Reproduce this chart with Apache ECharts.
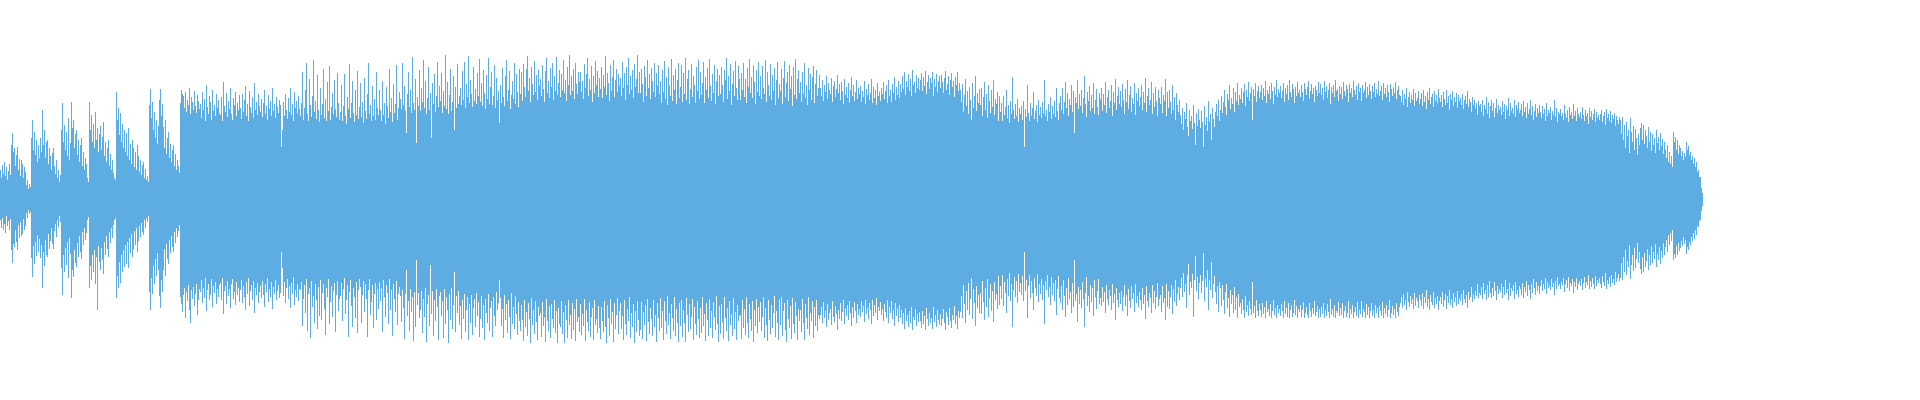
<!DOCTYPE html>
<html><head><meta charset="utf-8">
<script src="https://cdn.jsdelivr.net/npm/echarts@6/dist/echarts.min.js"></script>
<style>html,body{margin:0;padding:0;background:#fff}#chart{width:1920px;height:400px}</style>
</head><body><div id="chart"></div>
<script>
// Upper envelope of each sample (pixels of amplitude above the centre line)
const upper = [
30,22,35,26,38,24,33,20,29,36,25,55,67,48,
52,34,45,53,30,41,24,40,36,22,33,28,15,20,11,16,13,62,80,50,68,
45,60,38,55,42,62,48,90,
55,70,42,58,60,36,52,44,30,47,52,34,26,40,22,30,18,25,
70,97,58,75,50,68,44,82,40,57,98,72,
80,52,66,70,45,60,38,55,62,34,48,30,42,36,22,18,98,70,
85,58,76,52,88,60,72,48,66,
74,50,63,78,44,58,38,52,60,34,46,30,40,27,22,20,108,80,
92,65,87,58,76,52,70,48,
67,44,72,40,56,36,60,52,33,48,30,55,44,28,40,25,35,38,22,31,20,24,18,
95,111,82,98,70,88,62,80,56,74,100,111,84,96,
73,52,80,46,62,68,42,56,38,50,55,34,46,30,40,34,27,
97,110,106,104,92,108,88,100,95,112,86,103,98,90,109,94,87,105,99,91,
96,82,108,90,101,79,115,93,86,104,98,80,110,89,95,84,106,92,100,87,
85,103,79,118,94,88,107,83,99,91,112,86,80,102,95,108,84,97,90,105,
92,81,106,88,100,114,84,96,79,109,93,87,103,82,117,90,98,85,106,94,
88,101,83,97,110,86,94,80,105,91,99,84,112,89,96,82,103,93,87,100,
95,53,70,98,84,106,90,81,102,88,112,85,96,79,108,92,99,86,104,91,
84,97,128,80,92,110,137,86,79,121,95,83,104,140,88,99,81,125,90,78,
112,85,96,131,82,101,79,118,89,134,80,93,107,86,120,91,83,127,97,80,
88,115,79,94,126,84,76,103,91,136,82,97,119,87,78,110,85,129,81,93,
117,83,98,77,122,89,81,106,137,86,95,79,114,84,101,80,128,92,85,110,
90,79,119,85,97,76,113,94,82,131,88,102,78,116,87,96,135,80,92,108,
101,91,137,95,114,89,67,106,128,93,110,87,143,97,90,121,57,103,94,130,
89,112,98,140,92,119,86,102,133,90,107,62,117,96,126,88,104,138,93,114,
99,127,87,109,94,145,91,118,86,105,131,89,98,124,70,113,92,136,96,104,
112,95,129,100,138,92,116,103,144,97,120,106,93,133,99,111,96,127,104,141,
98,117,94,130,107,91,125,101,142,96,113,128,95,104,135,92,122,100,109,77,
115,97,132,103,94,124,140,99,110,129,91,105,119,101,137,96,126,108,93,131,
106,128,99,136,113,103,131,144,109,122,98,133,116,105,139,108,125,100,130,114,
121,104,135,111,98,129,142,107,119,102,132,113,137,100,124,109,143,105,117,130,
103,126,110,140,107,120,99,133,115,145,105,124,109,131,101,137,116,106,128,118,
128,108,119,101,136,112,126,142,104,121,110,134,98,124,107,139,115,129,103,122,
111,133,102,125,113,144,105,127,117,99,135,109,123,140,103,120,131,108,126,114,
122,104,138,112,127,100,133,115,142,106,124,110,130,102,136,113,121,145,107,128,
107,131,116,98,134,123,104,140,112,126,101,132,119,108,137,103,127,114,135,106,
119,97,130,108,139,101,123,95,133,114,104,141,99,125,110,131,96,120,137,102,
113,135,98,127,106,142,100,121,130,96,111,136,103,124,115,97,133,109,140,101,
128,105,117,138,97,123,110,132,102,141,114,99,126,107,135,96,119,131,104,125,
106,133,115,98,130,120,142,101,124,109,136,95,116,129,104,139,112,100,134,121,
100,127,110,137,103,121,97,132,113,141,107,123,102,135,118,96,130,108,138,104,
124,101,134,112,106,140,98,128,115,104,136,100,125,109,132,95,120,138,102,116,
109,131,96,122,139,103,117,128,99,135,111,124,94,133,105,141,101,121,130,107,
118,98,128,106,137,102,115,95,132,110,126,100,123,134,97,116,130,104,112,125,
112,104,120,99,115,108,124,101,117,110,106,122,98,114,119,103,111,125,107,116,
100,118,109,96,121,105,113,102,117,97,110,123,104,115,99,108,120,101,112,106,
114,98,109,103,119,96,111,105,116,100,107,121,97,113,102,110,95,117,104,108,
99,112,106,118,101,109,115,97,120,104,110,98,116,107,123,100,113,105,119,102,
116,108,124,111,128,105,119,113,126,109,121,104,130,115,118,107,125,112,122,110,
120,127,109,123,114,129,106,118,125,111,122,117,128,104,121,113,126,108,119,124,
112,125,118,107,122,129,110,116,124,105,120,127,113,119,103,123,115,128,109,117,
110,98,116,88,105,121,94,109,86,113,100,80,117,92,104,124,89,107,97,111,
95,112,84,103,118,90,106,82,115,99,87,110,93,120,85,101,96,108,79,104,
88,97,79,104,85,93,110,82,95,77,99,86,123,90,81,96,84,101,78,92,
86,94,80,99,53,91,83,115,87,79,97,84,92,108,81,89,95,78,100,85,
93,82,98,87,120,84,90,79,96,88,103,81,94,86,99,83,112,89,80,97,
104,90,112,86,98,118,92,107,84,101,95,115,88,109,67,103,97,120,91,106,
94,110,87,102,124,96,83,108,99,114,89,105,92,117,86,100,111,93,85,107,
101,112,89,106,95,118,87,103,110,92,99,115,84,108,97,121,90,104,113,96,
109,93,116,100,86,111,98,120,91,105,114,88,102,96,117,85,107,99,112,94,
103,115,90,108,97,122,88,104,112,95,100,118,86,107,93,113,99,84,110,102,
96,113,87,105,99,121,84,108,92,110,98,86,115,90,103,80,107,95,88,100,
85,76,92,70,88,81,97,73,64,90,79,84,71,95,77,55,87,74,91,80,
72,89,78,53,94,75,83,69,99,78,86,60,92,81,73,88,96,84,100,79,
90,104,87,98,110,93,85,106,100,115,91,102,96,112,88,108,99,117,95,105,
101,112,97,108,116,94,110,103,118,99,107,113,80,111,104,117,98,109,114,102,
108,115,100,112,104,119,97,110,106,114,101,117,109,96,113,105,120,103,111,107,
114,102,109,117,98,112,106,115,100,120,108,103,116,111,97,113,104,118,107,110,
103,115,108,99,117,111,105,113,119,101,109,116,106,112,98,114,110,104,118,107,
116,105,112,100,119,108,114,102,110,117,96,113,107,115,103,120,109,111,99,114,
106,113,101,118,109,104,115,111,98,116,107,112,103,119,110,105,114,100,117,108,
112,99,115,107,110,118,102,113,105,116,109,101,114,108,117,103,111,106,119,104,
109,114,100,117,106,112,103,115,108,98,116,111,104,113,107,118,101,110,114,105,
104,98,110,95,106,101,112,93,103,108,97,105,100,111,94,107,99,102,109,96,
101,107,94,110,98,104,91,108,100,112,96,103,106,93,109,99,105,97,111,102,
98,105,93,108,101,95,110,97,104,90,106,100,109,94,103,98,107,92,105,99,
102,95,106,91,100,104,96,109,93,101,98,88,103,95,100,92,97,85,99,94,
96,88,100,84,95,91,103,86,98,82,94,100,89,97,83,92,101,87,95,90,
93,85,99,88,96,81,94,90,102,84,97,89,92,86,100,83,95,91,98,87,
90,96,84,99,88,93,82,97,86,91,100,85,94,80,89,96,83,92,87,95,
88,82,94,86,91,79,97,84,90,87,93,80,89,85,100,83,92,78,88,86,
91,84,87,80,95,86,82,90,78,93,85,88,81,96,84,89,79,92,86,83,
88,81,93,85,79,90,84,87,76,92,83,89,80,86,91,78,88,82,85,80,
86,90,78,84,88,75,91,82,86,79,89,77,85,81,87,74,84,80,76,83,
80,66,83,60,75,52,78,64,70,47,82,68,58,74,50,71,62,45,66,55,
72,77,60,75,56,70,64,52,73,58,68,49,66,55,62,47,70,57,63,50,
67,54,61,46,58,50,42,55,38,48,36,44,33,68,58,63,50,60,46,55,
52,44,49,40,47,43,58,50,54,45,48,40,44,36,42,33,38,28,30,23,
23,12,7
];
// Lower envelope of each sample (pixels of amplitude below the centre line)
const lower = [
20,28,18,30,24,33,16,26,21,30,19,50,63,44,
47,30,42,50,25,38,22,36,34,19,30,26,13,18,10,14,12,58,77,46,64,
42,56,35,52,39,58,45,88,
52,66,40,55,57,34,49,41,28,44,49,31,24,37,20,27,16,22,
68,95,55,72,48,65,42,78,38,54,98,70,
77,50,63,67,43,57,36,52,59,32,45,28,40,33,20,17,88,66,
80,55,72,50,84,57,110,46,62,
70,48,60,74,42,55,36,49,57,32,43,28,38,25,20,18,98,76,
88,62,83,55,72,50,67,45,
64,42,68,38,53,34,57,49,31,45,28,52,41,26,37,23,32,35,20,28,18,22,16,
92,110,78,94,66,84,59,76,53,70,96,108,80,92,
70,49,76,44,59,64,40,53,36,47,52,32,43,28,37,31,25,
97,104,112,95,88,118,92,101,85,110,123,90,99,87,106,94,84,115,100,89,
92,80,103,88,98,78,111,90,84,100,95,79,107,86,93,82,104,89,97,85,
83,100,78,114,91,86,104,81,96,89,108,84,79,99,92,105,82,95,88,102,
90,80,103,86,97,110,82,94,78,106,91,85,100,81,113,88,95,83,103,92,
86,98,81,95,107,84,92,78,102,89,97,82,109,87,94,80,100,91,85,98,
93,52,68,96,82,103,88,79,99,86,108,83,94,77,105,90,97,84,101,89,
90,82,126,99,85,113,79,131,94,88,138,81,107,96,123,84,100,129,87,116,
80,120,93,84,109,135,88,97,79,124,102,86,117,91,83,132,95,81,111,99,
96,83,121,89,78,114,100,85,137,92,80,106,127,88,97,118,82,133,90,79,
87,123,95,81,112,84,99,137,90,79,115,102,85,128,94,83,120,89,109,82,
101,88,132,80,97,117,85,93,124,79,110,90,136,84,99,112,81,125,94,87,
96,122,90,108,139,94,70,116,101,131,89,112,97,141,92,127,60,105,93,118,
110,91,133,99,117,88,142,104,95,126,65,114,91,136,100,121,89,107,140,96,
92,116,101,138,89,124,97,110,143,94,120,88,129,105,72,132,96,113,91,125,
106,139,100,119,94,132,110,97,140,104,123,95,135,108,99,127,93,116,102,137,
119,96,128,105,140,99,113,123,94,131,108,101,137,97,116,126,92,110,103,80,
98,126,109,138,95,120,104,133,100,117,139,93,124,107,129,96,114,135,102,121,
131,105,120,141,100,127,112,136,103,119,143,98,125,110,134,101,122,140,107,116,
113,137,102,126,117,142,99,121,131,106,138,104,119,128,100,133,111,143,108,124,
127,101,134,112,143,105,120,138,100,125,115,139,103,130,109,141,99,122,117,132,
104,135,114,126,99,141,110,122,131,102,137,117,108,140,100,125,119,133,106,128,
139,107,121,132,101,127,143,105,118,136,99,124,112,142,103,129,115,98,134,111,
103,129,116,140,100,124,135,109,121,97,138,113,127,104,143,111,132,101,120,136,
130,102,139,112,125,105,141,99,122,134,108,119,136,100,127,115,142,103,118,131,
98,128,111,140,101,121,134,96,125,113,139,104,118,131,97,136,109,123,142,103,
126,100,137,110,123,142,98,115,132,104,129,117,99,140,107,124,135,101,119,138,
108,133,97,126,114,141,103,120,136,99,128,111,138,102,117,130,96,124,142,106,
134,104,122,139,97,118,131,108,141,101,125,114,136,98,129,112,140,105,121,116,
115,139,100,128,109,135,97,123,138,104,119,131,101,142,110,126,99,133,107,122,
102,131,117,97,138,108,125,141,100,120,134,105,128,113,96,137,111,123,140,99,
125,97,136,111,103,130,142,100,119,128,106,139,98,124,133,102,116,140,109,121,
110,132,99,123,140,104,118,129,97,135,113,121,101,138,107,126,100,131,115,119,
115,107,123,102,118,111,127,104,120,113,109,125,101,117,122,106,114,130,110,119,
103,121,112,100,124,108,116,105,120,101,113,126,107,118,102,111,123,104,115,109,
117,101,112,106,122,100,114,108,119,103,110,124,100,116,105,113,98,120,107,111,
102,115,109,121,104,112,118,100,123,107,113,101,119,110,126,103,116,108,122,105,
118,110,124,113,129,108,121,115,127,111,123,107,130,117,120,109,126,114,122,112,
121,128,111,124,116,130,108,119,126,113,123,118,129,107,122,115,127,110,120,125,
114,126,119,109,123,130,112,117,125,108,121,128,115,120,106,124,116,129,111,118,
112,96,118,85,104,123,91,110,83,115,99,78,119,89,103,126,86,108,95,113,
93,114,81,102,120,88,107,79,117,98,84,111,91,122,82,100,94,109,76,105,
86,99,75,106,82,93,113,79,96,73,101,84,127,90,77,97,81,103,74,92,
83,95,76,101,52,91,80,118,86,75,98,81,93,110,78,88,96,74,102,84,
94,79,100,85,124,81,90,75,97,87,105,77,95,83,101,80,115,89,76,98,
103,86,110,80,96,117,88,105,78,99,92,113,83,107,60,101,94,122,87,104,
90,108,82,99,127,93,77,106,96,112,85,102,88,116,80,97,109,91,79,104,
98,106,87,102,92,113,85,99,105,90,96,110,84,103,94,120,88,100,107,93,
104,91,111,97,85,106,95,116,89,101,108,86,99,93,112,84,103,96,107,92,
100,110,88,104,95,119,86,101,107,93,98,113,85,103,91,109,97,83,106,99,
95,112,86,103,98,120,84,107,91,109,97,85,114,89,102,80,106,94,87,100,
88,78,97,73,92,84,108,75,64,95,82,88,74,117,80,56,91,77,99,83,
75,93,81,53,101,78,87,70,110,80,90,62,98,84,76,92,104,86,112,82,
88,106,85,100,114,92,84,108,98,117,90,104,95,113,87,110,97,118,94,107,
103,114,99,110,118,96,112,105,116,101,109,115,82,113,106,118,100,111,116,104,
110,117,103,114,107,118,101,112,109,116,104,118,111,100,115,108,118,105,113,109,
116,104,111,118,101,114,108,117,103,118,110,105,117,113,100,115,106,118,109,112,
105,117,110,102,118,113,107,115,118,103,111,117,108,114,101,116,112,106,118,109,
117,107,114,103,118,110,116,104,112,118,99,115,109,117,105,118,111,113,102,116,
108,115,103,118,111,106,117,113,101,118,109,114,105,118,112,107,116,102,118,110,
114,101,117,109,112,118,104,115,107,118,111,103,116,110,118,105,113,108,118,106,
111,116,102,118,108,114,105,117,110,100,118,113,106,115,109,118,103,112,116,107,
103,97,108,94,105,100,110,92,102,107,96,104,99,109,93,106,98,101,108,95,
100,106,93,109,97,103,90,107,99,110,95,102,105,92,108,98,104,96,110,101,
97,104,92,107,100,94,109,96,103,90,105,99,108,93,102,97,106,91,104,98,
101,94,105,90,99,103,95,108,92,100,97,87,102,94,99,91,96,84,98,93,
95,87,99,83,94,90,100,85,97,81,93,98,88,96,82,91,100,86,94,89,
92,84,98,87,95,80,93,89,100,83,96,88,91,85,99,82,94,90,97,86,
89,95,83,98,87,92,81,96,85,90,99,84,93,79,88,95,82,91,86,94,
86,80,91,84,89,78,94,82,88,85,90,79,87,83,95,81,89,77,86,84,
89,82,85,78,92,84,80,88,77,91,83,86,79,93,82,87,78,90,84,81,
86,79,90,83,77,88,82,85,75,89,81,87,78,84,89,76,86,80,83,78,
84,88,76,82,86,73,89,80,84,77,87,75,83,79,85,72,82,78,74,81,
78,63,80,57,72,50,75,61,67,45,79,65,55,71,48,68,59,43,63,52,
69,74,57,72,53,67,61,49,70,55,65,46,63,52,59,44,67,54,60,47,
64,51,58,43,55,47,40,52,35,45,33,41,30,60,54,58,46,55,43,51,
48,41,46,37,44,40,54,47,50,42,45,37,41,33,39,30,35,26,27,21,
20,11,6
];
// Horizontal sample slots (one per pixel column of the 1920px wide canvas)
const slotCount = 1920;
const categories = Array.from({ length: slotCount }, (_, i) => i);

const chart = echarts.init(document.getElementById('chart'), null, { renderer: 'canvas' });
chart.setOption({
  animation: false,
  backgroundColor: '#ffffff',
  grid: { left: 0, right: 0, top: 0, bottom: 0, containLabel: false },
  xAxis: { type: 'category', data: categories, show: false, boundaryGap: true },
  yAxis: { type: 'value', min: -200, max: 200, show: false },
  series: [
    { type: 'bar', data: upper, barWidth: 1, barGap: '-100%', itemStyle: { color: '#5dade2' }, silent: true },
    { type: 'bar', data: lower.map(v => -v), barWidth: 1, barGap: '-100%', itemStyle: { color: '#5dade2' }, silent: true }
  ]
});
</script>
</body></html>
